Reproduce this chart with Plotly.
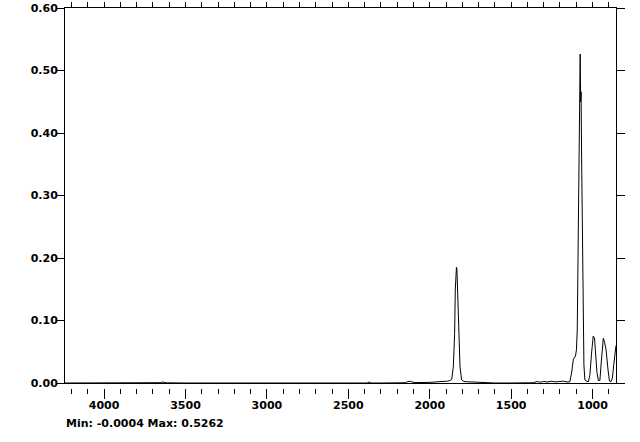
import plotly.graph_objects as go

# Wavenumber (cm-1) and absorbance
wavenumber = [4240, 4100, 4000, 3800, 3700, 3680, 3670, 3655, 3640, 3620, 3500, 3000, 2500,
              2385, 2370, 2360, 2300, 2200, 2150, 2134, 2120, 2109, 2090, 2000, 1975, 1930,
              1890, 1876, 1865, 1855, 1847, 1843, 1839, 1836, 1833, 1829, 1822, 1814, 1804,
              1790, 1773, 1740, 1700, 1673, 1600, 1500, 1400, 1366, 1340, 1320, 1300, 1280,
              1250, 1230, 1200, 1180, 1157, 1139, 1128, 1118, 1105, 1099, 1094, 1088, 1082,
              1076, 1073, 1070.5, 1067, 1061, 1057, 1053, 1047, 1034, 1025, 1016, 1007,
              996, 988, 982, 973, 964, 955, 946, 934, 926, 917, 905, 896, 887, 878, 870,
              863, 856]
absorbance = [0.0, 0.0, 0.0, 0.0, 0.0, 0.0, -0.0004, 0.0005, 0.0016, 0.0003, 0.0, 0.0, 0.0,
              0.0, 0.0016, 0.0, 0.0, 0.0, 0.0004, 0.0024, 0.0028, 0.0018, 0.0006, 0.001,
              0.0012, 0.0018, 0.003, 0.004, 0.006, 0.026, 0.0795, 0.149, 0.1835, 0.185, 0.183,
              0.149, 0.0795, 0.026, 0.005, 0.0025, 0.002, 0.0016, 0.0014, 0.0004, 0.0, 0.0,
              0.0, 0.0004, 0.0024, 0.0012, 0.0026, 0.0016, 0.0028, 0.0018, 0.0024, 0.003,
              0.0016, 0.002, 0.0176, 0.038, 0.043, 0.053, 0.085, 0.218, 0.432, 0.5262, 0.45,
              0.466, 0.357, 0.197, 0.085, 0.029, 0.005, 0.0024, 0.0024, 0.014, 0.045, 0.075,
              0.072, 0.05, 0.017, 0.004, 0.004, 0.035, 0.0715, 0.065, 0.053, 0.021, 0.003,
              0.002, 0.008, 0.029, 0.05, 0.06]

x_range = [4240, 856]
y_range = [0, 0.6]
y_ticks = [0.0, 0.1, 0.2, 0.3, 0.4, 0.5, 0.6]
stats_text = "Min: -0.0004 Max: 0.5262"

font_bold = dict(family="DejaVu Sans", size=11, color="black", weight="bold")

fig = go.Figure()
fig.add_trace(go.Scatter(x=wavenumber, y=absorbance, mode="lines",
                         line=dict(color="black", width=1), xaxis="x", yaxis="y",
                         showlegend=False, hoverinfo="skip"))
fig.add_trace(go.Scatter(x=x_range, y=[None, None], mode="lines", xaxis="x2", yaxis="y",
                         showlegend=False, hoverinfo="skip"))

plot_h = 442 - 8 - 54
fig.update_layout(
    width=640, height=442,
    margin=dict(l=65, r=24, t=8, b=54, pad=0, autoexpand=False),
    paper_bgcolor="white", plot_bgcolor="white",
    xaxis=dict(range=x_range, anchor="free", position=0, showline=False,
               showgrid=False, zeroline=False, ticks="outside", ticklen=10,
               tickwidth=1, tickcolor="black", tick0=0, dtick=500,
               minor=dict(dtick=100, tick0=0, ticks="outside", ticklen=5,
                          tickwidth=1, tickcolor="black", showgrid=False),
               tickfont=font_bold, ticklabelstandoff=-3, automargin=False),
    xaxis2=dict(range=x_range, overlaying="x", side="top", anchor="y",
                showline=True, linecolor="black", linewidth=1, mirror=True,
                showgrid=False, zeroline=False, ticks="outside", ticklen=5,
                tickcolor="black", tick0=0, dtick=100, showticklabels=False,
                automargin=False),
    yaxis=dict(range=y_range, domain=[5 / plot_h, 1], anchor="x",
               showline=True, linecolor="black", linewidth=1, mirror="ticks",
               showgrid=False, zeroline=False, ticks="outside", ticklen=8,
               tickcolor="black", tickvals=y_ticks, tickformat=".2f",
               tickfont=font_bold, ticklabelstandoff=-4, automargin=False),
    annotations=[dict(text=stats_text, xref="paper", yref="paper", x=0, y=0,
                      xanchor="left", yanchor="middle", yshift=-35, showarrow=False,
                      font=font_bold, borderpad=0)],
)

fig.write_html("out.html", config={"displayModeBar": False},
               post_script="document.body.style.margin='0';document.body.style.overflow='hidden';")
